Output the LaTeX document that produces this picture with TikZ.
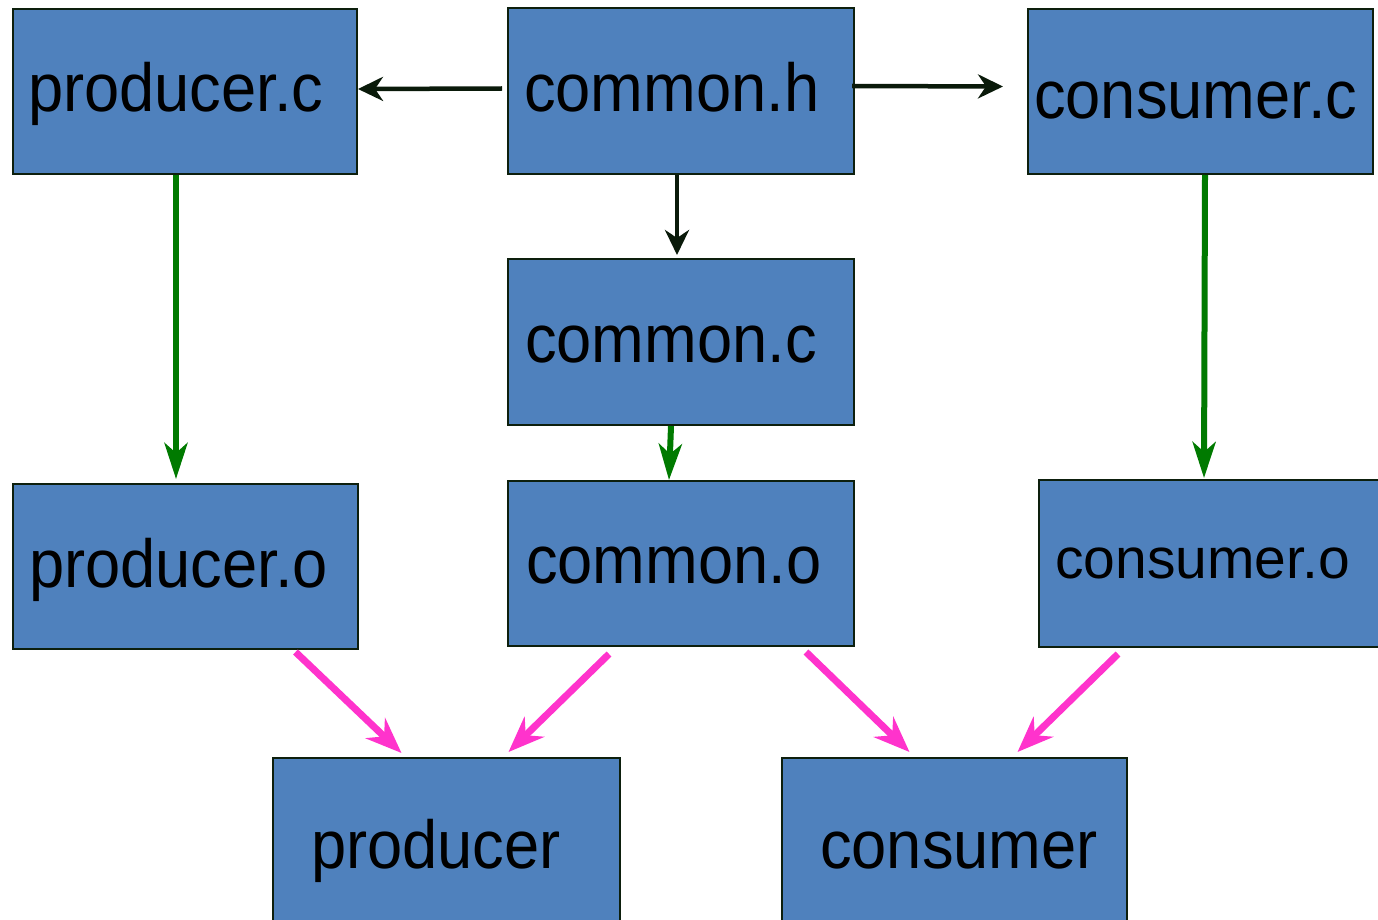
\documentclass[tikz,border=0pt]{standalone}
\usepackage{fontspec}
\setmainfont{Liberation Sans}[FakeStretch=0.93]
\newfontfamily\plainsans{Liberation Sans}
\usetikzlibrary{arrows.meta}
\definecolor{boxblue}{HTML}{4F81BD}
\definecolor{boxedge}{HTML}{0D1F0D}
\definecolor{darkarrow}{HTML}{0A1A0A}
\definecolor{greenarrow}{HTML}{007A00}
\definecolor{pinkarrow}{HTML}{FF33CC}
\tikzset{
  filebox/.style={draw=boxedge, line width=2pt, fill=boxblue, rectangle, inner sep=0pt, anchor=north west},
  filetext/.style={inner sep=0pt, anchor=base west, font=\fontsize{68}{70}\selectfont, text=black},
  blackarrow/.style={draw=darkarrow, line width=4.5pt, -{Stealth[length=25pt,width=24pt,inset=8pt]}},
  greenflow/.style={draw=greenarrow, line width=6pt, -{Stealth[length=36pt,width=23pt,inset=10pt]}},
  pinkflow/.style={draw=pinkarrow, line width=7pt, -{Stealth[length=36pt,width=28pt,inset=12pt]}}
}
\begin{document}
\begin{tikzpicture}[x=1pt,y=-1pt]
\useasboundingbox[fill=white] (0,0) rectangle (1378,920);
% boxes
\node[filebox, minimum width=344pt, minimum height=165pt] (pc) at (12,8) {};
\node[filebox, minimum width=346pt, minimum height=166pt] (ch) at (507,7) {};
\node[filebox, minimum width=345pt, minimum height=165pt] (cc) at (1027,8) {};
\node[filebox, minimum width=346pt, minimum height=166pt] (cmc) at (507,258) {};
\node[filebox, minimum width=345pt, minimum height=165pt] (po) at (12,483) {};
\node[filebox, minimum width=346pt, minimum height=165pt] (co) at (507,480) {};
\node[filebox, minimum width=360pt, minimum height=167pt] (cuo) at (1038,479) {};
\node[filebox, minimum width=347pt, minimum height=190pt] (pr) at (272,757) {};
\node[filebox, minimum width=345pt, minimum height=190pt] (cu) at (781,757) {};
% texts
\node[filetext] (pct) at (28,112) {producer.c};
\node[filetext] (cht) at (524,112) {common.h};
\node[filetext] (cct) at (1034,119) {consumer.c};
\node[filetext] (cmct) at (525,362) {common.c};
\node[filetext] (pot) at (29,587) {producer.o};
\node[filetext] (cot) at (526,583) {common.o};
\node[filetext, font=\plainsans\fontsize{57}{60}\selectfont] (cuot) at (1055,578) {consumer.o};
\node[filetext] (prt) at (311,868) {producer};
\node[filetext] (cut) at (820,868) {consumer};
% black arrows
\draw[blackarrow] ([xshift=-5pt,yshift=2.5pt]ch.west) -- ([yshift=2.5pt]pc.east);
\draw[blackarrow] ([xshift=-3pt,yshift=5pt]ch.east) -- ([xshift=-24pt,yshift=5pt]cc.west);
\draw[blackarrow] ([xshift=-4pt]ch.south) -- ([xshift=-4pt,yshift=3pt]cmc.north);
% green arrows
\draw[greenflow] ([xshift=-9pt]pc.south) -- ([xshift=-9.5pt,yshift=4pt]po.north);
\draw[greenflow] ([xshift=4.5pt]cc.south) -- ([xshift=-15pt,yshift=1pt]cuo.north);
\draw[greenflow] ([xshift=-10pt]cmc.south) -- ([xshift=-12pt]co.north);
% pink arrows
\draw[pinkflow] ([xshift=110pt,yshift=-2pt]po.south) -- ([xshift=-45pt,yshift=4pt]pr.north);
\draw[pinkflow] ([xshift=-72pt,yshift=-7pt]co.south) -- ([xshift=62pt,yshift=5pt]pr.north);
\draw[pinkflow] ([xshift=125pt,yshift=-5pt]co.south) -- ([xshift=-45pt,yshift=5pt]cu.north);
\draw[pinkflow] ([xshift=-101pt,yshift=-6pt]cuo.south) -- ([xshift=63pt,yshift=5pt]cu.north);
\end{tikzpicture}
\end{document}
